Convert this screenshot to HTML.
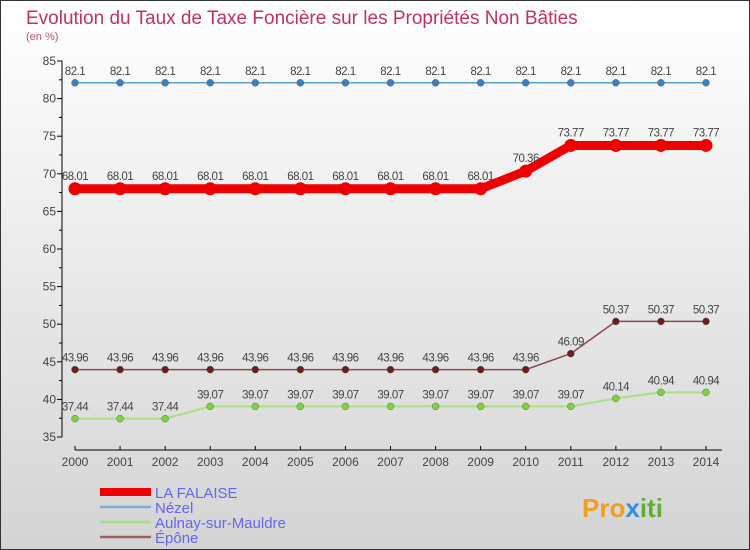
<!DOCTYPE html>
<html><head><meta charset="utf-8"><style>
body{margin:0;}
svg{display:block;font-family:"Liberation Sans",sans-serif;}
</style></head><body>
<svg id="c" width="750" height="550" xmlns="http://www.w3.org/2000/svg">
<defs><linearGradient id="bg" x1="0" y1="0" x2="0" y2="1"><stop offset="0" stop-color="#ffffff"/><stop offset="1" stop-color="#d4d4d4"/></linearGradient></defs>
<rect x="0.5" y="0.5" width="749" height="549" fill="url(#bg)" stroke="#333"/>
<text x="26" y="24" font-size="19" fill="#c0306a">Evolution du Taux de Taxe Foncière sur les Propriétés Non Bâties</text>
<text x="26" y="40" font-size="11" fill="#c05080">(en %)</text>
<g id="axes"></g>
<g id="series"></g>
<g id="legend"></g>
<text x="582" y="517" font-size="26" font-weight="bold" fill="#f0a020">Pro<tspan fill="#3090e0">x</tspan><tspan fill="#60b030">iti</tspan></text>
</svg>
<script>
const years=[2000,2001,2002,2003,2004,2005,2006,2007,2008,2009,2010,2011,2012,2013,2014];
const yTicks=[35,40,45,50,55,60,65,70,75,80,85];
const falaise=[68.01,68.01,68.01,68.01,68.01,68.01,68.01,68.01,68.01,68.01,70.36,73.77,73.77,73.77,73.77];
const nezel=[82.1,82.1,82.1,82.1,82.1,82.1,82.1,82.1,82.1,82.1,82.1,82.1,82.1,82.1,82.1];
const aulnay=[37.44,37.44,37.44,39.07,39.07,39.07,39.07,39.07,39.07,39.07,39.07,39.07,40.14,40.94,40.94];
const epone=[43.96,43.96,43.96,43.96,43.96,43.96,43.96,43.96,43.96,43.96,43.96,46.09,50.37,50.37,50.37];
const names=["LA FALAISE","Nézel","Aulnay-sur-Mauldre","Épône"];
const NS="http://www.w3.org/2000/svg";
const xs=i=>75+i*(631/14);
const ys=v=>61+(85-v)*(376/50);
function mk(t,a,p){const e=document.createElementNS(NS,t);for(const k in a)e.setAttribute(k,a[k]);p.appendChild(e);return e;}
const ax=document.getElementById('axes');
let l=mk('line',{x1:62,y1:61,x2:62,y2:437,stroke:'#000'},ax);


l=mk('line',{x1:75,y1:450,x2:722,y2:450,stroke:'#000'},ax);


yTicks.forEach(v=>{const y=ys(v);
 mk('line',{x1:57,y1:y,x2:62,y2:y,stroke:'#000'},ax);
 const t=mk('text',{x:56,y:y+4,'font-size':12,fill:'#444','text-anchor':'end'},ax);t.textContent=v;
 
 
 if(v<85) mk('line',{x1:59,y1:ys(v+2.5),x2:62,y2:ys(v+2.5),stroke:'#000'},ax);
});
years.forEach((yr,i)=>{const x=xs(i);
 mk('line',{x1:x,y1:446,x2:x,y2:450,stroke:'#000'},ax);
 const t=mk('text',{x:x,y:466,'font-size':12,fill:'#444','text-anchor':'middle'},ax);t.textContent=yr;
 
 
});
const sg=document.getElementById('series');
const defs=[
 {d:nezel,c:'#5a9fd0',w:1.5,r:3.5,f:'#3a80c0',n:'nezel-line',lab:'-8'},
 {d:epone,c:'#8a4a4a',w:1.5,r:3.5,f:'#6a1f1f',n:'epone-line',lab:'-8'},
 {d:aulnay,c:'#a8e080',w:2,r:3.5,f:'#80d040',n:'aulnay-line',lab:'-8'},
 {d:falaise,c:'#ee0000',w:9,r:6.5,f:'#ee0000',n:'falaise-line',lab:'-9'}];
defs.forEach(s=>{
 const p=mk('polyline',{points:s.d.map((v,i)=>xs(i)+','+ys(v)).join(' '),fill:'none',stroke:s.c,'stroke-width':s.w,'stroke-linejoin':'round'},sg);
 
 
 s.d.forEach((v,i)=>{
  const c=mk('circle',{cx:xs(i),cy:ys(v),r:s.r,fill:s.f,stroke:s.w>5?'none':'#555','stroke-width':0.4},sg);
  
  
  const t=mk('text',{x:xs(i),y:ys(v)+ +s.lab,'font-size':11.5,fill:'#444','text-anchor':'middle','letter-spacing':'-0.5'},sg);
  t.textContent=v;
  
  
 });
});
const lg=document.getElementById('legend');
const lc=['#ee0000','#7aaed0','#a8e080','#9a6060'],lw=[8,2.5,2.5,2.5];
names.forEach((n,i)=>{const y=492+i*15;
 const ln=mk('line',{x1:100,y1:y,x2:151,y2:y,stroke:lc[i],'stroke-width':lw[i]},lg);
 
 
 const t=mk('text',{x:155,y:y+6,'font-size':15,fill:'#6666ee'},lg);t.textContent=n;
 
 
});
</script>
</body></html>
